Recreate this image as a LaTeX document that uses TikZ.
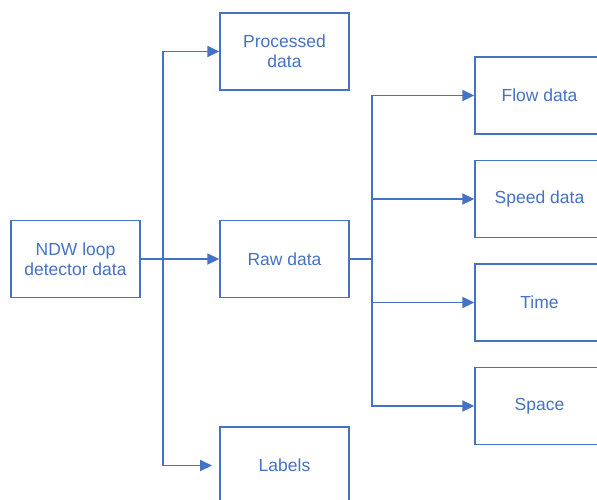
\documentclass[tikz,border=0pt]{standalone}
\usepackage{fontspec}
\setmainfont{Liberation Sans}
\usetikzlibrary{arrows.meta}
\definecolor{cblue}{HTML}{4472C4}
\begin{document}
\begin{tikzpicture}[x=1pt,y=-1pt,
  boxnode/.style={draw=cblue,line width=1.4pt,minimum width=129pt,minimum height=77pt,inner sep=0pt,
    text=cblue,align=center,font=\fontsize{17.5}{20}\selectfont},
  conn/.style={draw=cblue,line width=1.9pt},
  arr/.style={conn,-{Triangle[length=12pt,width=11pt]}}]
\clip (0,0) rectangle (597,499);
\fill[white] (0,0) rectangle (597,499);
\node[boxnode] (ndw) at (75.5,259) {NDW loop\\detector data};
\node[boxnode] (proc) at (284.5,51.5) {Processed\\data};
\node[boxnode] (raw) at (284.5,259) {Raw data};
\node[boxnode] (labels) at (284.5,465.5) {Labels};
\node[boxnode] (flow) at (539.5,95.5) {Flow data};
\node[boxnode] (speed) at (539.5,199) {Speed data};
\node[boxnode] (time) at (539.5,302.5) {Time};
\node[boxnode] (space) at (539.5,406) {Space};
\coordinate (j1) at (163,259);
\coordinate (j2) at (372,259);
\coordinate (labin) at (212,465.5);
\draw[arr] (ndw.east) -- (raw.west);
\draw[arr] (j1) |- (proc.west);
\draw[arr] (j1) |- (labin);
\draw[conn] (raw.east) -- (j2);
\draw[arr] (j2) |- (flow.west);
\draw[arr] (j2) |- (speed.west);
\draw[arr] (j2) |- (time.west);
\draw[arr] (j2) |- (space.west);
\end{tikzpicture}
\end{document}
